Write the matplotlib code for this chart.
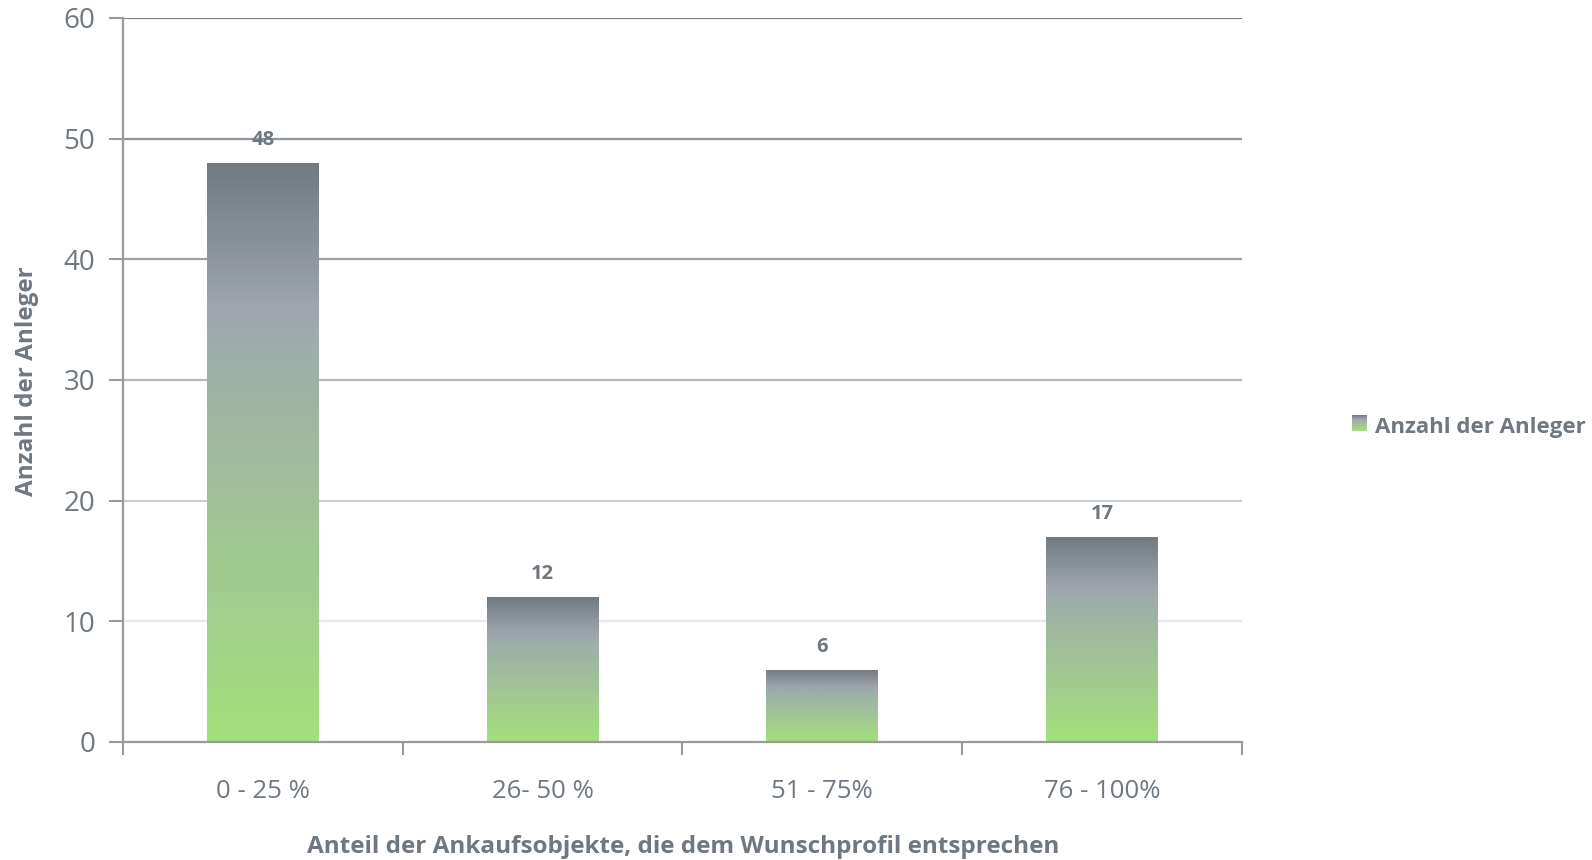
import numpy as np
import matplotlib.pyplot as plt
from matplotlib.colors import LinearSegmentedColormap

categories = ["0 - 25 %", "26- 50 %", "51 - 75%", "76 - 100%"]
values = [48, 12, 6, 17]
series_name = "Anzahl der Anleger"
x_title = "Anteil der Ankaufsobjekte, die dem Wunschprofil entsprechen"
y_title = "Anzahl der Anleger"

TEXT = "#6f7881"
GRID = {60: "#7b848c", 50: "#8e959c", 40: "#9ba2a8", 30: "#b3b8bd", 20: "#c9cdd8", 10: "#e5e9f4"}

plt.rcParams["font.family"] = ["Open Sans", "DejaVu Sans"]

# gradient: dark grey at top, light grey, green at bottom
grad = LinearSegmentedColormap.from_list(
    "bar", [(0.0, "#a4e07c"), (0.68, "#9eaeaa"), (0.75, "#9ea5ad"), (1.0, "#727a81")])

W, H = 1592, 860
fig = plt.figure(figsize=(W / 100, H / 100), dpi=100)
ax = fig.add_axes([123 / W, 1 - 742 / H, (1242 - 123) / W, (742 - 18) / H])

x = np.arange(len(categories))
bars = ax.bar(x, values, width=0.4, color="none", zorder=2)
ramp = np.linspace(0, 1, 256).reshape(-1, 1)
for b, v in zip(bars, values):
    x0, w = b.get_x(), b.get_width()
    im = ax.imshow(ramp, cmap=grad, origin="lower", aspect="auto",
                   extent=(x0, x0 + w, 0, b.get_height()), zorder=2)
    im.set_clip_path(b)
    ax.text(x0 + w / 2, v + 1.9, str(v), ha="center", va="center",
            fontsize=14.5, fontweight="bold", color=TEXT)

ax.set_xlim(-0.5, len(categories) - 0.5)
ax.set_ylim(0, 60)

for yv, c in GRID.items():
    ax.axhline(yv, color=c, lw=1.6, zorder=1)

ax.set_yticks(range(0, 61, 10))
ax.tick_params(axis="y", length=10, width=1.5, color="#9a9a9a", labelsize=20,
               labelcolor=TEXT, pad=10)
ax.set_xticks(x)
ax.set_xticklabels(categories)
ax.tick_params(axis="x", which="major", length=0, labelsize=18.5, labelcolor=TEXT, pad=27)
ax.set_xticks(np.arange(-0.5, len(categories)), minor=True)
ax.tick_params(axis="x", which="minor", length=9, width=1.5, color="#9a9a9a")

for s in ["top", "right"]:
    ax.spines[s].set_visible(False)
for s in ["left", "bottom"]:
    ax.spines[s].set_color("#9a9a9a")
    ax.spines[s].set_linewidth(1.6)

fig.text(683 / W, 1 - 847 / H, x_title, fontsize=17.5, fontweight="bold",
         color=TEXT, ha="center", va="center")
fig.text(27 / W, 1 - 381 / H, y_title, fontsize=17.5, fontweight="bold",
         color=TEXT, ha="center", va="center", rotation=90)

# legend: gradient square + label
lax = fig.add_axes([1352 / W, 1 - 431 / H, 15 / W, 16 / H])
lax.imshow(ramp, cmap=grad, origin="lower", aspect="auto")
lax.axis("off")
fig.text(1375 / W, 1 - 427 / H, series_name, fontsize=16, fontweight="bold",
         color=TEXT, va="center", ha="left")

fig.savefig("out.png", dpi=100)
